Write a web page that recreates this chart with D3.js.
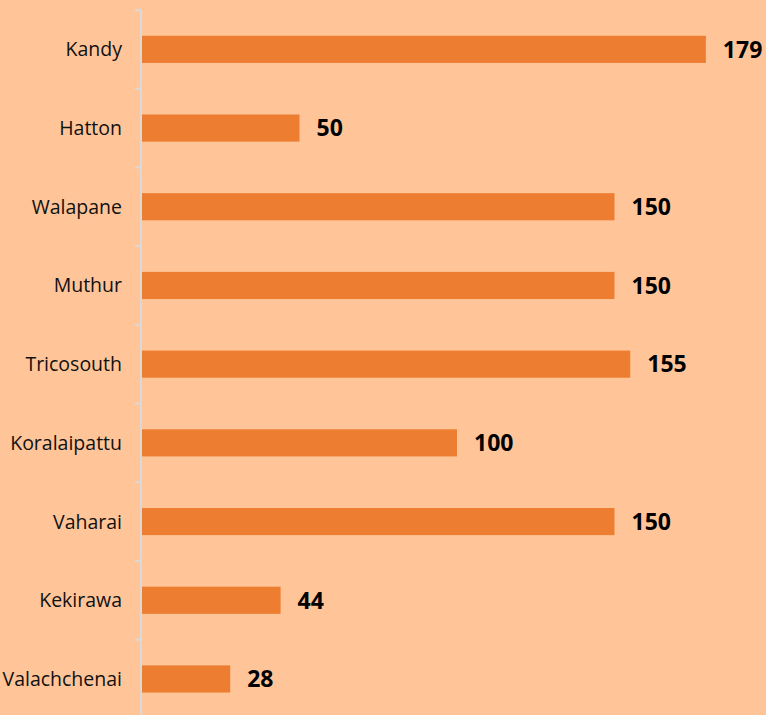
<!DOCTYPE html>
<html>
<head>
<meta charset="utf-8">
<script src="https://cdn.jsdelivr.net/npm/d3@7.9.0/dist/d3.min.js"></script>
<style>
  html, body { margin: 0; padding: 0; background: #FFC599; }
  svg { display: block; }
</style>
</head>
<body>
<svg id="chart" width="766" height="715"></svg>
<script>
const categories = ["Kandy", "Hatton", "Walapane", "Muthur", "Tricosouth",
                    "Koralaipattu", "Vaharai", "Kekirawa", "Valachchenai"];
const values = [179, 50, 150, 150, 155, 100, 150, 44, 28];

const width = 766, height = 715;
const margin = { left: 142, top: 10 };
const step = 78.7;

const svg = d3.select("#chart");

const y = d3.scaleBand()
  .domain(categories)
  .range([margin.top, margin.top + step * categories.length])
  .paddingInner(0.655)
  .paddingOuter(0.3275);

const x = d3.scaleLinear()
  .domain([0, 200])
  .range([margin.left, margin.left + 630]);

// bars
svg.selectAll("rect.bar")
  .data(values)
  .enter()
  .append("rect")
  .attr("class", "bar")
  .attr("x", x(0))
  .attr("y", (d, i) => y(categories[i]))
  .attr("width", d => x(d) - x(0))
  .attr("height", y.bandwidth())
  .attr("fill", "#ED7D31");

// axis line + ticks at band boundaries
const axisX = margin.left - 1;
svg.append("line")
  .attr("x1", axisX).attr("x2", axisX)
  .attr("y1", margin.top).attr("y2", margin.top + step * categories.length)
  .attr("stroke", "#D9D9D9")
  .attr("stroke-width", 2);

d3.range(categories.length + 1).forEach(i => {
  const ty = margin.top + i * step;
  svg.append("line")
    .attr("x1", axisX - 6).attr("x2", axisX)
    .attr("y1", ty).attr("y2", ty)
    .attr("stroke", "#D9D9D9")
    .attr("stroke-width", 2);
});

// category labels
svg.selectAll("text.cat")
  .data(categories)
  .enter()
  .append("text")
  .attr("class", "cat")
  .attr("x", 122)
  .attr("y", d => y(d) + y.bandwidth() / 2)
  .attr("dy", "0.36em")
  .attr("text-anchor", "end")
  .attr("font-family", "Open Sans, sans-serif")
  .attr("font-size", 19.5)
  .attr("fill", "#111")
  .text(d => d);

// value labels
svg.selectAll("text.val")
  .data(values)
  .enter()
  .append("text")
  .attr("class", "val")
  .attr("x", d => x(d) + 17)
  .attr("y", (d, i) => y(categories[i]) + y.bandwidth() / 2)
  .attr("dy", "0.36em")
  .attr("font-family", "Open Sans, sans-serif")
  .attr("font-weight", "bold")
  .attr("font-size", 23)
  .attr("fill", "#000")
  .text(d => d);
</script>
</body>
</html>
